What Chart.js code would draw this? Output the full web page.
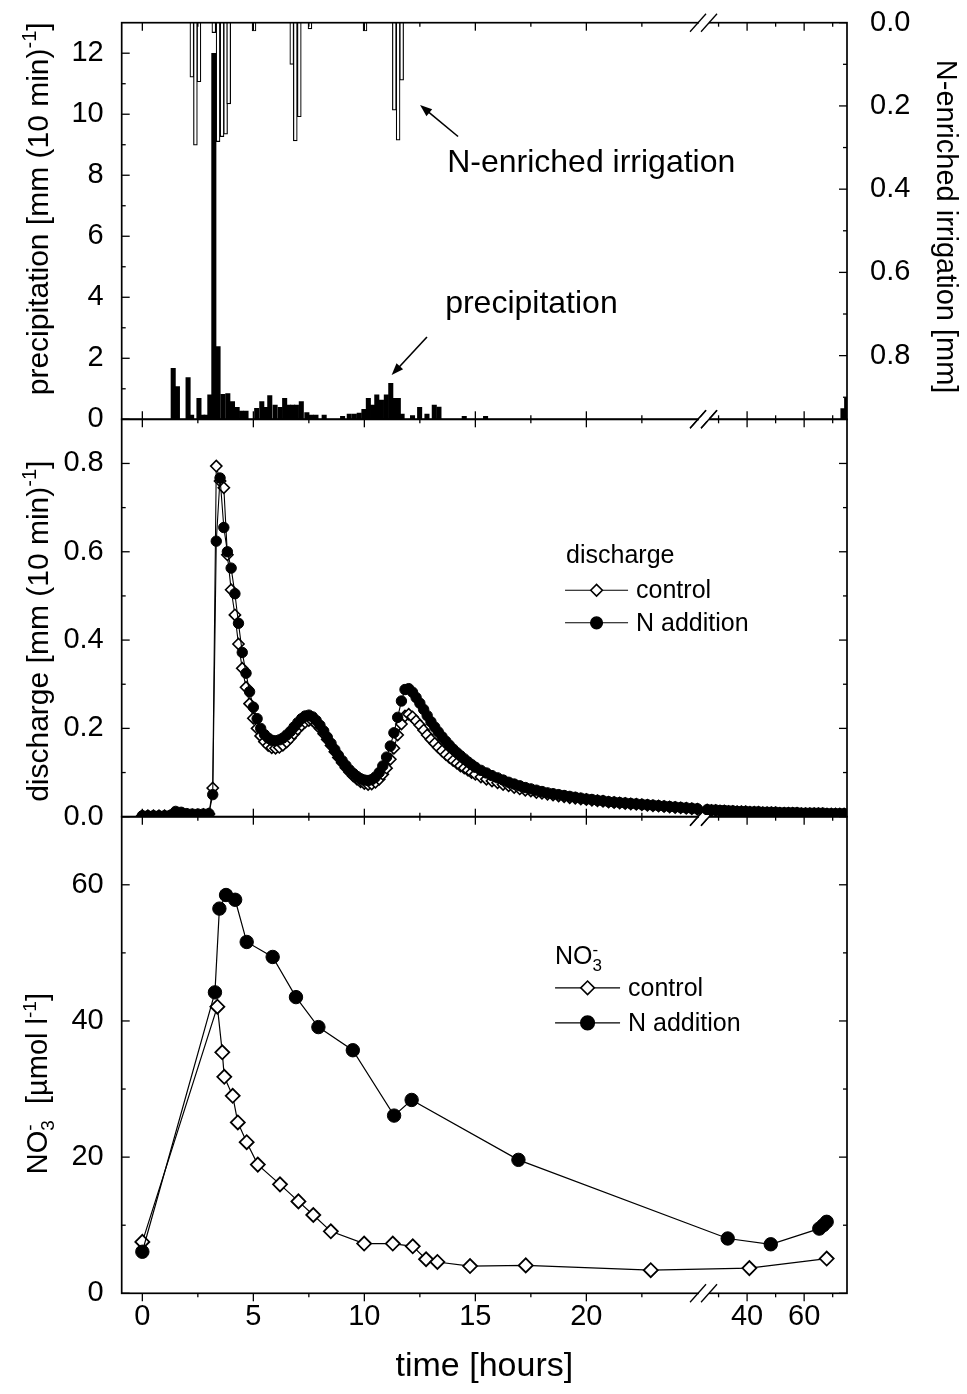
<!DOCTYPE html>
<html>
<head>
<meta charset="utf-8">
<title>Precipitation, discharge and nitrate</title>
<script src="https://cdn.jsdelivr.net/npm/chart.js@4.4.1/dist/chart.umd.min.js"></script>
<style>
  html, body { margin: 0; padding: 0; background: #fff; }
  #wrap { position: relative; width: 967px; height: 1394px; }
  #wrap canvas { position: absolute; left: 0; top: 0; }
</style>
</head>
<body>
<div id="wrap">
  <canvas id="precipChart" width="967" height="1394"></canvas>
  <canvas id="dischargeChart" width="967" height="1394"></canvas>
  <canvas id="nitrateChart" width="967" height="1394"></canvas>
</div>
<script>
// Time axis: 0-25 h linear, then a compressed part after the axis break
const xTickHours = [0, 5, 10, 15, 20, 40, 60];
const xTickLabels = ['0', '5', '10', '15', '20', '40', '60'];
const xMinorHours = [2.5, 7.5, 12.5, 17.5, 22.5, 30, 50, 70];

// Top panel: precipitation (10 min sums) and N-enriched irrigation
const precipHours = [1.39, 1.58, 2.06, 2.22, 2.55, 2.72, 2.87, 3.04, 3.22, 3.41, 3.63, 3.85, 4.06, 4.27, 4.47, 4.67,
  5.15, 5.38, 5.55, 5.74, 5.98, 6.21, 6.41, 6.59, 6.77, 6.94, 7.16, 7.41, 7.62, 7.82, 8.19, 9.02, 9.32, 9.55, 9.77,
  9.98, 10.18, 10.37, 10.56, 10.77, 10.99, 11.19, 11.38, 11.53, 11.70, 12.17, 12.49, 12.82, 13.15, 13.36, 14.50,
  15.46, 73.6, 74.9];
const precipMm = [1.67, 1.07, 1.37, 0.14, 0.69, 0.14, 0.14, 0.80, 12.0, 2.38, 0.82, 0.84, 0.58, 0.39, 0.27, 0.27,
  0.36, 0.58, 0.39, 0.78, 0.47, 0.39, 0.69, 0.47, 0.47, 0.47, 0.58, 0.22, 0.14, 0.14, 0.14, 0.10, 0.17, 0.17, 0.20,
  0.33, 0.69, 0.47, 0.80, 0.63, 0.80, 1.18, 0.69, 0.69, 0.17, 0.12, 0.39, 0.17, 0.47, 0.40, 0.10,
  0.10, 0.35, 0.70];
const irrigHours = [2.23, 2.39, 2.55, 3.22, 3.41, 3.59, 3.75, 3.89, 5.03, 6.73, 6.89, 7.07, 7.55, 10.03, 11.35, 11.52, 11.68];
const irrigMm = [0.131, 0.294, 0.142, 0.024, 0.286, 0.274, 0.268, 0.195, 0.02, 0.10, 0.284, 0.226, 0.015, 0.02, 0.21, 0.282, 0.138];
const precipTicks = [0, 2, 4, 6, 8, 10, 12];
const precipMinor = [1, 3, 5, 7, 9, 11];
const irrigTicks = [0, 0.2, 0.4, 0.6, 0.8];
const irrigMinor = [0.1, 0.3, 0.5, 0.7, 0.9];

// Middle panel: discharge
const dischHours = [0, 0.25, 0.5, 0.75, 1, 1.25, 1.5, 1.75, 2, 2.25, 2.5, 2.75, 3,
  3.17, 3.33, 3.5, 3.67, 3.83, 4, 4.17, 4.33, 4.5, 4.67, 4.83, 5, 5.17, 5.33, 5.5, 5.67, 5.83, 6,
  6.17, 6.33, 6.5, 6.67, 6.83, 7, 7.17, 7.33, 7.5, 7.67, 7.83, 8, 8.17, 8.33, 8.5, 8.67, 8.83, 9,
  9.17, 9.33, 9.5, 9.67, 9.83, 10, 10.17, 10.33, 10.5, 10.67, 10.83, 11, 11.17, 11.33, 11.5, 11.67, 11.83, 12,
  12.17, 12.33, 12.5, 12.67, 12.83, 13, 13.17, 13.33, 13.5, 13.67, 13.83, 14, 14.17, 14.33, 14.5, 14.67, 14.83, 15,
  15.25, 15.5, 15.75, 16, 16.25, 16.5, 16.75, 17, 17.25, 17.5, 17.75, 18, 18.25, 18.5, 18.75, 19, 19.25, 19.5, 19.75, 20,
  20.25, 20.5, 20.75, 21, 21.25, 21.5, 21.75, 22, 22.25, 22.5, 22.75, 23, 23.25, 23.5, 23.75, 24, 24.25, 24.5, 24.75, 25,
  26, 27.5, 29, 30.5, 32, 33.5, 35, 36.5, 38, 39.5, 41, 42.5, 44, 45.5, 47, 48.5, 50, 51.5, 53, 54.5, 56, 57.5,
  59, 60.5, 62, 63.5, 65, 66.5, 68, 69.5, 71, 72.5, 74];
const dischControl = [0.002, 0.002, 0.002, 0.002, 0.002, 0.002, 0.004, 0.004, 0.004, 0.004, 0.004, 0.005, 0.006,
  0.065, 0.794, 0.76, 0.745, 0.593, 0.514, 0.457, 0.391, 0.336, 0.293, 0.256, 0.223, 0.2, 0.183, 0.17, 0.161, 0.156, 0.155,
  0.157, 0.162, 0.169, 0.178, 0.188, 0.198, 0.207, 0.214, 0.218, 0.217, 0.21, 0.2, 0.188, 0.175, 0.161, 0.147, 0.134, 0.122,
  0.111, 0.101, 0.092, 0.085, 0.079, 0.075, 0.073, 0.074, 0.078, 0.085, 0.096, 0.11, 0.13, 0.155, 0.185, 0.21, 0.228, 0.232,
  0.226, 0.217, 0.207, 0.196, 0.185, 0.175, 0.166, 0.157, 0.149, 0.141, 0.134, 0.127, 0.121, 0.115, 0.11, 0.105, 0.1, 0.096,
  0.09, 0.085, 0.081, 0.077, 0.073, 0.07, 0.066, 0.063, 0.06, 0.058, 0.055, 0.053, 0.051, 0.049, 0.047, 0.045, 0.043, 0.042, 0.04, 0.039,
  0.037, 0.036, 0.035, 0.033, 0.032, 0.031, 0.03, 0.029, 0.028, 0.027, 0.026, 0.025, 0.024, 0.023, 0.022, 0.021, 0.02, 0.019, 0.018, 0.017,
  0.015, 0.014, 0.014, 0.013, 0.013, 0.012, 0.012, 0.011, 0.011, 0.011, 0.01, 0.01, 0.01, 0.009, 0.009, 0.009, 0.009, 0.008,
  0.008, 0.008, 0.008, 0.008, 0.007, 0.007, 0.007, 0.007, 0.007, 0.007, 0.006, 0.006, 0.006, 0.006, 0.006];
const dischNAdd = [0.002, 0.002, 0.002, 0.002, 0.002, 0.003, 0.012, 0.01, 0.007, 0.006, 0.006, 0.006, 0.007,
  0.05, 0.624, 0.767, 0.655, 0.6, 0.563, 0.505, 0.438, 0.372, 0.325, 0.283, 0.248, 0.222, 0.2, 0.186, 0.178, 0.173, 0.172,
  0.174, 0.178, 0.185, 0.193, 0.203, 0.213, 0.222, 0.228, 0.23, 0.226, 0.218, 0.207, 0.194, 0.18, 0.166, 0.152, 0.139, 0.127,
  0.116, 0.106, 0.098, 0.091, 0.086, 0.083, 0.082, 0.084, 0.09, 0.1, 0.115, 0.135, 0.16, 0.19, 0.225, 0.262, 0.288, 0.29,
  0.282, 0.27, 0.257, 0.243, 0.229, 0.215, 0.203, 0.192, 0.181, 0.171, 0.162, 0.153, 0.145, 0.138, 0.131, 0.124, 0.118, 0.112,
  0.105, 0.099, 0.093, 0.088, 0.083, 0.078, 0.074, 0.07, 0.066, 0.063, 0.06, 0.057, 0.054, 0.052, 0.05, 0.048, 0.046, 0.044, 0.042, 0.04,
  0.039, 0.037, 0.036, 0.034, 0.033, 0.032, 0.031, 0.03, 0.029, 0.028, 0.027, 0.026, 0.025, 0.024, 0.023, 0.022, 0.021, 0.02, 0.019, 0.018,
  0.016, 0.015, 0.015, 0.014, 0.014, 0.013, 0.013, 0.012, 0.012, 0.012, 0.011, 0.011, 0.011, 0.01, 0.01, 0.01, 0.01, 0.009,
  0.009, 0.009, 0.009, 0.009, 0.008, 0.008, 0.008, 0.008, 0.008, 0.008, 0.007, 0.007, 0.007, 0.007, 0.007];
const dischTicks = [0, 0.2, 0.4, 0.6, 0.8];
const dischMinor = [0.1, 0.3, 0.5, 0.7];

// Bottom panel: nitrate concentration
const no3ControlHours = [0, 3.38, 3.6, 3.69, 4.07, 4.3, 4.7, 5.2, 6.2, 7.03, 7.7, 8.49, 9.99, 11.28, 12.18, 12.78, 13.29, 14.76, 17.27, 22.9, 40.8, 67.9];
const no3Control = [7.55, 42.1, 35.4, 31.8, 29.0, 25.1, 22.2, 18.9, 16.0, 13.5, 11.5, 9.1, 7.3, 7.3, 6.9, 5.0, 4.6, 4.0, 4.1, 3.4, 3.7, 5.1];
const no3NAddHours = [0, 3.27, 3.47, 3.77, 4.18, 4.7, 5.87, 6.92, 7.93, 9.48, 11.34, 12.13, 16.94, 33.2, 48.3, 65.3, 66.7, 67.9];
const no3NAdd = [6.1, 44.2, 56.5, 58.5, 57.8, 51.6, 49.4, 43.5, 39.1, 35.7, 26.1, 28.4, 19.6, 8.05, 7.2, 9.5, 10.0, 10.5];
const no3Ticks = [0, 20, 40, 60];
const no3Minor = [10, 30, 50];

// axis break: hours after 25 h are squeezed
function toAxis(h) {
  return h <= 25 ? h : 27.24 + (h - 40) * 0.1285;
}
const X_MIN = -0.93, X_MAX = 31.74, BREAK_AT = 25.3;

const FONT = '"Liberation Sans", Arial, Helvetica, sans-serif';
Chart.defaults.font.family = FONT;
Chart.defaults.color = '#000';

const AXIS_LEFT = 121.7, AXIS_RIGHT = 847;
const TOP_A = 22.7, BOT_A = 419.3, BOT_B = 816.7, BOT_C = 1293.3, H = 1394, W = 967;
const TICK_FONT = 29;

// draws text with sub/superscripts, returns width
function rich(ctx, parts, x, y, size, draw) {
  let cx = x, lastX = x;
  parts.forEach(([t, kind]) => {
    const fs = kind ? Math.round(size * 0.66) : size;
    ctx.font = fs + 'px ' + FONT;
    let dy = 0, px = cx;
    if (kind === 'sup') dy = -size * 0.38;
    if (kind === 'sub') dy = size * 0.25;
    if (kind === 'over') { dy = -size * 0.38; px = lastX; }
    if (draw) ctx.fillText(t, px, y + dy);
    lastX = px;
    cx = Math.max(cx, px + ctx.measureText(t).width);
  });
  return cx - x;
}

function xScale(show) {
  return {
    type: 'linear', min: X_MIN, max: X_MAX, display: show, offset: false,
    grid: { display: false, drawTicks: false, offset: false }, border: { display: false },
    afterBuildTicks: s => { s.ticks = xTickHours.map(h => ({ value: toAxis(h) })); },
    ticks: { font: { size: TICK_FONT }, color: '#000', padding: 6, maxRotation: 0, autoSkip: false,
      callback: (v, i) => xTickLabels[i] },
    title: { display: show, text: 'time [hours]', font: { size: 34 }, color: '#000', padding: { top: 0, bottom: 7 } },
    afterFit: s => {
      s.paddingLeft = 0; s.paddingRight = 0;
      if (show) s.height = H - BOT_C;
    }
  };
}

function yScale(ticks, min, max, side, digits, extra) {
  return Object.assign({
    position: side, min: min, max: max,
    grid: { display: false, drawTicks: false }, border: { display: false },
    afterBuildTicks: s => { s.ticks = ticks.map(v => ({ value: v })); },
    ticks: { font: { size: TICK_FONT }, color: '#000', padding: side === 'left' ? 18 : 23,
      callback: v => v.toFixed(digits) },
    afterFit: s => {
      s.paddingTop = 0; s.paddingBottom = 0;
      s.width = side === 'left' ? AXIS_LEFT : W - AXIS_RIGHT;
    }
  }, extra || {});
}

// frame, inward ticks and the // break marks
function framePlugin(cfg) {
  return {
    id: 'frame',
    afterDraw(chart) {
      const ctx = chart.ctx, a = chart.chartArea, xs = chart.scales.x;
      const line = (x1, y1, x2, y2) => { ctx.beginPath(); ctx.moveTo(x1, y1); ctx.lineTo(x2, y2); ctx.stroke(); };
      ctx.save();
      ctx.strokeStyle = '#000';
      ctx.lineWidth = 1.3;
      const bd = cfg.bottomOut ? 1 : -1;
      xTickHours.forEach(h => {
        const px = xs.getPixelForValue(toAxis(h));
        line(px, a.top, px, a.top + 8);
        line(px, a.bottom, px, a.bottom + 8 * bd);
      });
      xMinorHours.forEach(h => {
        const px = xs.getPixelForValue(toAxis(h));
        line(px, a.top, px, a.top + 4);
        line(px, a.bottom, px, a.bottom + 4 * bd);
      });
      cfg.yTicks.forEach(t => {
        const s = chart.scales[t.id];
        t.sides.forEach(side => {
          const edge = side === 'left' ? a.left : a.right;
          const dir = side === 'left' ? 1 : -1;
          t.major.forEach(v => { const py = s.getPixelForValue(v); line(edge, py, edge + 8 * dir, py); });
          t.minor.forEach(v => { const py = s.getPixelForValue(v); line(edge, py, edge + 4 * dir, py); });
        });
      });
      ctx.lineWidth = 1.7;
      ctx.strokeRect(a.left, a.top, a.right - a.left, a.bottom - a.top);
      const bx = xs.getPixelForValue(BREAK_AT);
      [a.top, a.bottom].forEach(y => {
        ctx.fillStyle = '#fff';
        ctx.fillRect(bx - 5, y - 1.6, 10, 3.2);
        ctx.lineWidth = 1.3;
        line(bx - 14, y + 9, bx + 2, y - 9);
        line(bx - 3, y + 9, bx + 13, y - 9);
      });
      ctx.restore();
    }
  };
}

// rotated axis titles, centred on a value of their axis
function titlesPlugin(items) {
  return {
    id: 'titles',
    afterDraw(chart) {
      const ctx = chart.ctx;
      items.forEach(it => {
        const cy = chart.scales[it.scale].getPixelForValue(it.at);
        ctx.save();
        ctx.fillStyle = '#000';
        ctx.textBaseline = 'alphabetic';
        ctx.translate(it.x, cy);
        ctx.rotate(it.rot);
        const w = rich(ctx, it.parts, 0, 0, it.size, false);
        rich(ctx, it.parts, -w / 2, it.size * 0.35, it.size, true);
        ctx.restore();
      });
    }
  };
}

// labels with arrows in the top panel
function notesPlugin(notes, arrows) {
  return {
    id: 'notes',
    afterDraw(chart) {
      const ctx = chart.ctx, xs = chart.scales.x, ys = chart.scales.y;
      ctx.save();
      ctx.fillStyle = '#000';
      ctx.strokeStyle = '#000';
      ctx.font = '32px ' + FONT;
      ctx.textBaseline = 'alphabetic';
      notes.forEach(n => ctx.fillText(n.text, xs.getPixelForValue(n.t), ys.getPixelForValue(n.v)));
      arrows.forEach(ar => {
        const x1 = xs.getPixelForValue(ar.from[0]), y1 = ys.getPixelForValue(ar.from[1]);
        const x2 = xs.getPixelForValue(ar.to[0]), y2 = ys.getPixelForValue(ar.to[1]);
        const c = Math.cos(Math.atan2(y2 - y1, x2 - x1)), s = Math.sin(Math.atan2(y2 - y1, x2 - x1));
        ctx.lineWidth = 1.6;
        ctx.beginPath(); ctx.moveTo(x1, y1); ctx.lineTo(x2 - 8 * c, y2 - 8 * s); ctx.stroke();
        ctx.beginPath();
        ctx.moveTo(x2, y2);
        ctx.lineTo(x2 - 12 * c + 4.5 * s, y2 - 12 * s - 4.5 * c);
        ctx.lineTo(x2 - 12 * c - 4.5 * s, y2 - 12 * s + 4.5 * c);
        ctx.closePath(); ctx.fill();
      });
      ctx.restore();
    }
  };
}

// legend drawn inside the plot
function legendPlugin(cfg) {
  return {
    id: 'boxlegend',
    afterDraw(chart) {
      const ctx = chart.ctx;
      const x0 = chart.scales.x.getPixelForValue(cfg.t);
      const y0 = chart.scales.y.getPixelForValue(cfg.v);
      ctx.save();
      ctx.fillStyle = '#000';
      ctx.strokeStyle = '#000';
      ctx.textBaseline = 'alphabetic';
      rich(ctx, cfg.title, x0 + cfg.titleDx, y0, 25, true);
      cfg.order.forEach((di, i) => {
        const ds = chart.data.datasets[di];
        const y = y0 + cfg.rows[i];
        const cx = x0 + cfg.lineLen / 2, r = cfg.radius;
        ctx.lineWidth = 1.1;
        ctx.beginPath(); ctx.moveTo(x0, y); ctx.lineTo(x0 + cfg.lineLen, y); ctx.stroke();
        ctx.fillStyle = ds.backgroundColor;
        ctx.lineWidth = 1.6;
        ctx.beginPath();
        if (ds.pointStyle === 'circle') ctx.arc(cx, y, r, 0, Math.PI * 2);
        else { ctx.moveTo(cx - r, y); ctx.lineTo(cx, y - r); ctx.lineTo(cx + r, y); ctx.lineTo(cx, y + r); ctx.closePath(); }
        ctx.fill(); ctx.stroke();
        ctx.fillStyle = '#000';
        ctx.font = '25px ' + FONT;
        ctx.textBaseline = 'middle';
        ctx.fillText(ds.label, x0 + cfg.lineLen + 8, y + 1);
        ctx.textBaseline = 'alphabetic';
      });
      ctx.restore();
    }
  };
}

const pts = (hours, vals) => hours.map((h, i) => ({ x: toAxis(h), y: vals[i] }));
const baseOpts = { responsive: false, animation: false, events: [],
  plugins: { legend: { display: false }, tooltip: { enabled: false } } };

// ---- top panel
new Chart(document.getElementById('precipChart'), {
  type: 'bar',
  data: { datasets: [
    { label: 'precipitation', data: pts(precipHours, precipMm), yAxisID: 'y', backgroundColor: '#000',
      borderWidth: 0, barThickness: 4.4, grouped: false, order: 0 },
    { label: 'N-enriched irrigation', data: pts(irrigHours, irrigMm), yAxisID: 'yIrr', backgroundColor: '#fff',
      borderColor: '#000', borderWidth: 1.2, barThickness: 3.9, grouped: false, order: 1 }
  ] },
  options: Object.assign({}, baseOpts, {
    layout: { padding: { left: 0, right: 0, top: TOP_A, bottom: H - BOT_A } },
    scales: {
      x: xScale(false),
      y: yScale(precipTicks, 0, 13, 'left', 0),
      yIrr: yScale(irrigTicks, 0, 0.953, 'right', 1, { reverse: true })
    }
  }),
  plugins: [
    framePlugin({ bottomOut: false, yTicks: [
      { id: 'y', sides: ['left'], major: precipTicks, minor: precipMinor },
      { id: 'yIrr', sides: ['right'], major: irrigTicks, minor: irrigMinor }] }),
    titlesPlugin([
      { scale: 'y', at: 6.9, x: 37, rot: -Math.PI / 2, size: 30,
        parts: [['precipitation [mm (10 min)', ''], ['-1', 'sup'], [']', '']] },
      { scale: 'yIrr', at: 0.49, x: 947, rot: Math.PI / 2, size: 29,
        parts: [['N-enriched irrigation [mm]', '']] }
    ]),
    notesPlugin(
      [{ text: 'N-enriched irrigation', t: 13.73, v: 8.1 }, { text: 'precipitation', t: 13.64, v: 3.48 }],
      [{ from: [14.22, 9.27], to: [12.51, 10.3] }, { from: [12.82, 2.7], to: [11.23, 1.45] }])
  ]
});

// ---- middle panel
new Chart(document.getElementById('dischargeChart'), {
  type: 'line',
  data: { datasets: [
    { label: 'control', data: pts(dischHours, dischControl), pointStyle: 'rectRot', pointRadius: 5.6,
      backgroundColor: '#fff', borderColor: '#000', pointBorderWidth: 1.6, borderWidth: 1.1, tension: 0, order: 1 },
    { label: 'N addition', data: pts(dischHours, dischNAdd), pointStyle: 'circle', pointRadius: 5.2,
      backgroundColor: '#000', borderColor: '#000', pointBorderWidth: 1, borderWidth: 1.1, tension: 0, order: 0 }
  ] },
  options: Object.assign({}, baseOpts, {
    layout: { padding: { left: 0, right: W - AXIS_RIGHT, top: BOT_A, bottom: H - BOT_B } },
    scales: { x: xScale(false), y: yScale(dischTicks, 0, 0.9, 'left', 1) }
  }),
  plugins: [
    framePlugin({ bottomOut: false, yTicks: [{ id: 'y', sides: ['left', 'right'], major: dischTicks, minor: dischMinor }] }),
    titlesPlugin([{ scale: 'y', at: 0.42, x: 37, rot: -Math.PI / 2, size: 30,
      parts: [['discharge [mm (10 min)', ''], ['-1', 'sup'], [']', '']] }]),
    legendPlugin({ t: 19.04, v: 0.575, titleDx: 1, title: [['discharge', '']], rows: [27.4, 60], order: [0, 1],
      lineLen: 63, radius: 5.8 })
  ]
});

// ---- bottom panel
new Chart(document.getElementById('nitrateChart'), {
  type: 'line',
  data: { datasets: [
    { label: 'control', data: pts(no3ControlHours, no3Control), pointStyle: 'rectRot', pointRadius: 7,
      backgroundColor: '#fff', borderColor: '#000', pointBorderWidth: 1.8, borderWidth: 1.2, tension: 0, order: 1 },
    { label: 'N addition', data: pts(no3NAddHours, no3NAdd), pointStyle: 'circle', pointRadius: 6.7,
      backgroundColor: '#000', borderColor: '#000', pointBorderWidth: 1, borderWidth: 1.2, tension: 0, order: 0 }
  ] },
  options: Object.assign({}, baseOpts, {
    layout: { padding: { left: 0, right: W - AXIS_RIGHT, top: BOT_B, bottom: 0 } },
    scales: { x: xScale(true), y: yScale(no3Ticks, 0, 70, 'left', 0) }
  }),
  plugins: [
    framePlugin({ bottomOut: true, yTicks: [{ id: 'y', sides: ['left', 'right'], major: no3Ticks, minor: no3Minor }] }),
    titlesPlugin([{ scale: 'y', at: 30.8, x: 37, rot: -Math.PI / 2, size: 29,
      parts: [['NO', ''], ['3', 'sub'], ['-', 'over'], ['  [\u00b5mol l', ''], ['-1', 'sup'], [']', '']] }]),
    legendPlugin({ t: 18.59, v: 48.3, titleDx: 0, title: [['NO', ''], ['3', 'sub'], ['-', 'over']],
      rows: [23.4, 58.4], order: [0, 1], lineLen: 65, radius: 6.8 })
  ]
});
</script>
</body>
</html>
